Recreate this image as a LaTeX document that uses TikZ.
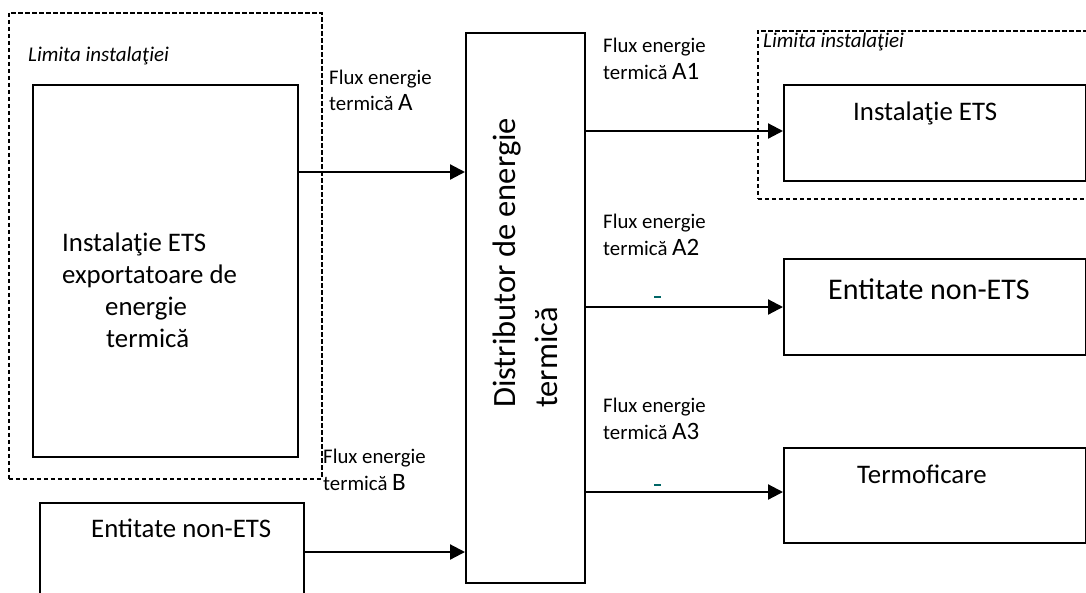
\documentclass[tikz,border=0pt]{standalone}
\usepackage{fontspec}
\setmainfont{Carlito}
\usetikzlibrary{arrows.meta}
\tikzset{
  box/.style={draw, line width=2pt, inner sep=0pt, anchor=north west},
  limitbox/.style={draw, line width=1.6pt, dash pattern=on 4.5pt off 2.5pt, inner sep=0pt, anchor=north west},
  arr/.style={line width=2.2pt, -{Triangle[length=15pt,width=15pt]}},
  lbl/.style={anchor=base west, inner sep=0pt, font=\fontsize{20.8}{24}\selectfont},
  lim/.style={anchor=base west, inner sep=0pt, font=\fontsize{21}{24}\selectfont\itshape},
  btxt/.style={anchor=base west, inner sep=0pt, font=\fontsize{26.8}{30}\selectfont},
  dtxt/.style={anchor=base west, inner sep=0pt, rotate=90, font=\fontsize{32.5}{36}\selectfont},
  tick/.style={draw=teal!80!black, line width=1.8pt}
}
\newcommand{\bigA}[1]{{\fontsize{25}{25}\selectfont #1}}
\begin{document}
\begin{tikzpicture}[x=1pt,y=-1pt]
\useasboundingbox (0,0) rectangle (1086,592);
% left installation boundary
\node[limitbox, minimum width=313pt, minimum height=466pt] (limL) at (8,12) {};
\node[lim] (limLt) at (28,61) {Limita instalaţiei};
\node[box, minimum width=265pt, minimum height=372pt] (ets1) at (32,84) {};
\node[btxt] (ets1a) at (62,251) {Instalaţie ETS};
\node[btxt] (ets1b) at (62,283) {exportatoare de};
\node[btxt] (ets1c) at (105,315) {energie};
\node[btxt] (ets1d) at (106,347) {termică};
% non-ETS entity bottom left
\node[box, minimum width=264pt, minimum height=110pt] (non1) at (39,502) {};
\node[btxt] (non1t) at (91,537) {Entitate non-ETS};
% distributor
\node[box, minimum width=119pt, minimum height=550pt] (dist) at (465,32) {};
\node[dtxt] (dist1) at (515,408) {Distributor de energie};
\node[dtxt] (dist2) at (557,408) {termică};
% right installation boundary
\node[limitbox, minimum width=340pt, minimum height=168pt] (limR) at (757,30) {};
\node[lim] (limRt) at (763,47) {Limita instalaţiei};
\node[box, minimum width=302pt, minimum height=96pt] (ets2) at (783,84) {};
\node[btxt] (ets2t) at (853,120) {Instalaţie ETS};
\node[box, minimum width=302pt, minimum height=96pt] (non2) at (783,258) {};
\node[anchor=base west, inner sep=0pt, font=\fontsize{30}{34}\selectfont] (non2t) at (828,299) {Entitate non-ETS};
\node[box, minimum width=302pt, minimum height=95pt] (termo) at (783,447) {};
\node[btxt] (termot) at (857,483) {Termoficare};
% flow labels
\node[lbl] (fA1) at (329,84) {Flux energie};
\node[lbl] (fA2) at (329,110) {termică \bigA{A}};
\node[lbl] (fB1) at (323,463) {Flux energie};
\node[lbl] (fB2) at (323,490) {termică \bigA{B}};
\node[lbl] (fa11) at (603,52) {Flux energie};
\node[lbl] (fa12) at (603,79) {termică \bigA{A1}};
\node[lbl] (fa21) at (603,228) {Flux energie};
\node[lbl] (fa22) at (603,255) {termică \bigA{A2}};
\node[lbl] (fa31) at (603,412) {Flux energie};
\node[lbl] (fa32) at (603,439) {termică \bigA{A3}};
% arrow levels
\coordinate (yA) at (0,172);
\coordinate (yB) at (0,552);
\coordinate (yA1) at (0,131);
\coordinate (yA2) at (0,307);
\coordinate (yA3) at (0,492);
\draw[arr] (ets1.east |- yA) -- (dist.west |- yA);
\draw[arr] (non1.east |- yB) -- (dist.west |- yB);
\draw[arr] (dist.east |- yA1) -- (ets2.west |- yA1);
\draw[arr] (dist.east |- yA2) -- (non2.west |- yA2);
\draw[arr] (dist.east |- yA3) -- (termo.west |- yA3);
% small teal marks
\draw[tick] (654,297) -- (661,297);
\draw[tick] (654,485) -- (661,485);
\end{tikzpicture}
\end{document}
